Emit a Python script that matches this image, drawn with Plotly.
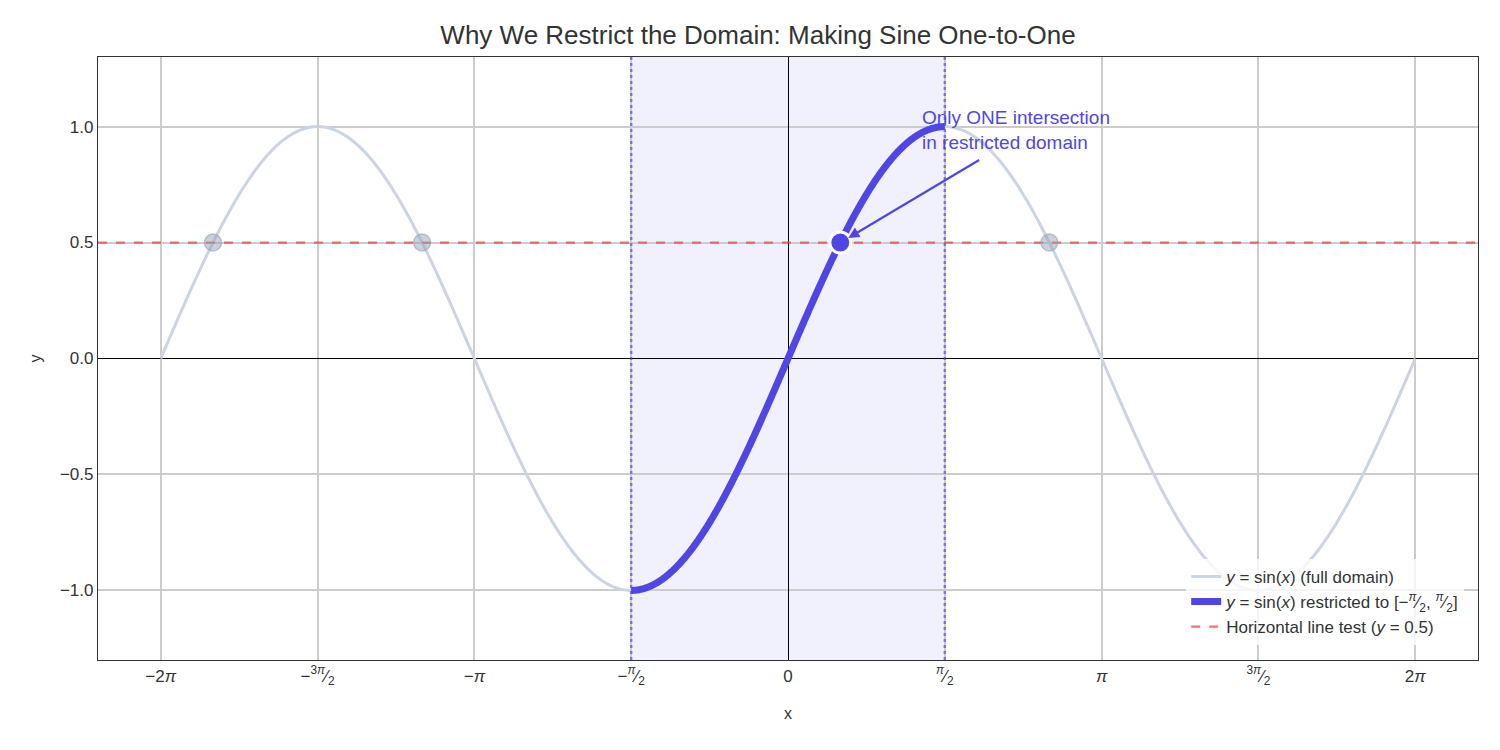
import numpy as np
import plotly.graph_objects as go

# Data for the chart
x_full = np.linspace(-2 * np.pi, 2 * np.pi, 800)
y_full = np.sin(x_full)
x_restricted = np.linspace(-np.pi / 2, np.pi / 2, 400)
y_restricted = np.sin(x_restricted)

test_y = 0.5
other_hits_x = [-11 * np.pi / 6, -7 * np.pi / 6, 5 * np.pi / 6]
other_hits_y = [0.5, 0.5, 0.5]
main_hit_x = [np.pi / 6]
main_hit_y = [0.5]

tick_vals = [-2 * np.pi, -3 * np.pi / 2, -np.pi, -np.pi / 2, 0, np.pi / 2, np.pi, 3 * np.pi / 2, 2 * np.pi]
tick_text = ['−2<i>π</i>', '−<sup>3<i>π</i></sup>⁄<sub>2</sub>', '−<i>π</i>', '−<sup><i>π</i></sup>⁄<sub>2</sub>', '0',
             '<sup><i>π</i></sup>⁄<sub>2</sub>', '<i>π</i>', '<sup>3<i>π</i></sup>⁄<sub>2</sub>', '2<i>π</i>']
y_ticks = [-1.0, -0.5, 0.0, 0.5, 1.0]

INDIGO = '#4f46e5'
SLATE = '#cbd5e1'

fig = go.Figure()

# Shaded restricted domain
fig.add_vrect(x0=-np.pi / 2, x1=np.pi / 2, fillcolor='rgba(79,70,229,0.08)', line_width=0, layer='below')
for xv in [-np.pi / 2, np.pi / 2]:
    fig.add_vline(x=xv, line=dict(color='rgba(79,70,229,0.65)', width=2.5, dash='dot'))

fig.add_trace(go.Scatter(x=x_full, y=y_full, mode='lines',
                         line=dict(color=SLATE, width=3, simplify=False),
                         name='<i>y</i> = sin(<i>x</i>) (full domain)'))
fig.add_trace(go.Scatter(x=x_restricted, y=y_restricted, mode='lines',
                         line=dict(color=INDIGO, width=7, simplify=False),
                         name='<i>y</i> = sin(<i>x</i>) restricted to [−<sup><i>π</i></sup>⁄<sub>2</sub>, <sup><i>π</i></sup>⁄<sub>2</sub>]'))
fig.add_trace(go.Scatter(x=[-2.2 * np.pi, 2.2 * np.pi], y=[test_y, test_y], mode='lines',
                         line=dict(color='rgba(239,68,68,0.75)', width=2.2, dash='dash'),
                         name='Horizontal line test (<i>y</i> = 0.5)'))
fig.add_trace(go.Scatter(x=other_hits_x, y=other_hits_y, mode='markers',
                         marker=dict(color='rgba(148,163,184,0.5)', size=17,
                                     line=dict(color='rgba(148,163,184,0.6)', width=1.5)),
                         showlegend=False))
fig.add_trace(go.Scatter(x=main_hit_x, y=main_hit_y, mode='markers',
                         marker=dict(color=INDIGO, size=21, line=dict(color='white', width=3)),
                         showlegend=False))

# Annotation arrow and text
fig.add_annotation(x=np.pi / 6 + 0.08, y=0.52, ax=1.93, ay=0.86, xref='x', yref='y', axref='x', ayref='y',
                   text='', showarrow=True, arrowhead=2, arrowsize=1, arrowwidth=2.2, arrowcolor=INDIGO)
fig.add_annotation(x=1.32, y=0.985, xref='x', yref='y', xanchor='left', yanchor='middle', align='left',
                   text='Only ONE intersection<br>in restricted domain', showarrow=False,
                   font=dict(color=INDIGO, size=19))

axis_common = dict(showline=True, linecolor='#333333', linewidth=1.2, mirror=True,
                   showgrid=True, gridcolor='#cccccc', gridwidth=1.5,
                   zeroline=True, zerolinecolor='black', zerolinewidth=1,
                   ticks='', tickfont=dict(size=17, color='#333333'))

fig.update_xaxes(range=[-2.2 * np.pi, 2.2 * np.pi], tickvals=tick_vals, ticktext=tick_text,
                 title=dict(text='x', font=dict(size=16, color='#333333'), standoff=20), **axis_common)
fig.update_yaxes(range=[-1.3, 1.3], tickvals=y_ticks, tickformat='.1f',
                 title=dict(text='y', font=dict(size=16, color='#333333'), standoff=14), **axis_common)

fig.update_layout(
    width=1500, height=750,
    title=dict(text='Why We Restrict the Domain: Making Sine One-to-One', x=0.5, xanchor='center',
               y=0.964, yanchor='middle', font=dict(size=26, color='#333333')),
    font=dict(family='Liberation Sans, Arial, sans-serif', color='#333333'),
    plot_bgcolor='white', paper_bgcolor='white',
    margin=dict(l=90, r=30, t=49, b=98),
    legend=dict(x=0.99, y=0.025, xanchor='right', yanchor='bottom',
                bgcolor='rgba(255,255,255,0.8)', font=dict(size=17, color='#333333'),
                tracegroupgap=4),
)

fig.write_html('out.html')
